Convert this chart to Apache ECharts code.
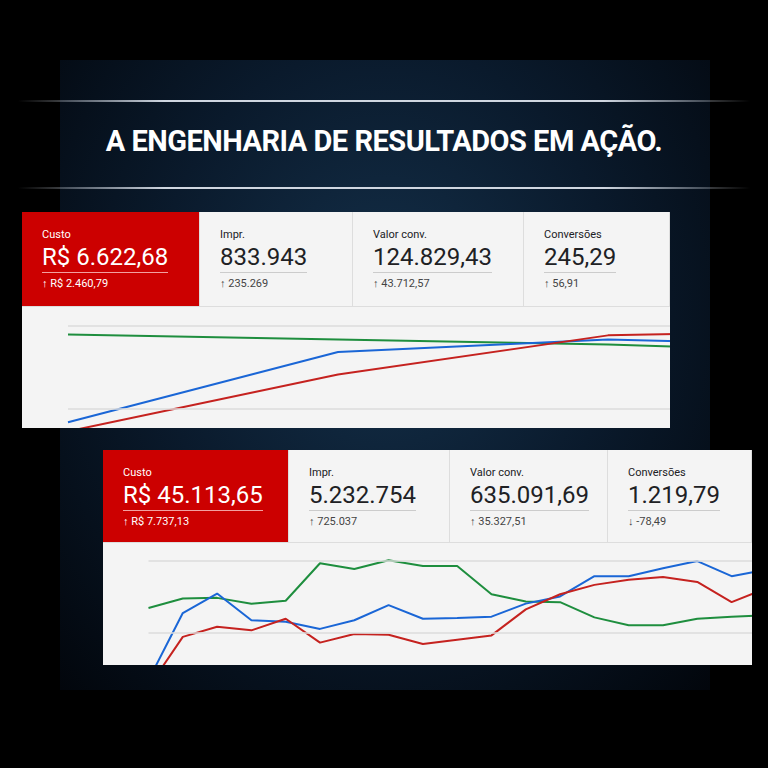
<!DOCTYPE html>
<html><head><meta charset="utf-8">
<script src="https://cdn.jsdelivr.net/npm/echarts@6/dist/echarts.min.js"></script>
<style>
body{margin:0;width:768px;height:768px;background:#000;font-family:Roboto,sans-serif;overflow:hidden;position:relative}
#bg{position:absolute;left:60px;top:60px;width:650px;height:630px;background:radial-gradient(ellipse at 50% 40%,#14304a 0%,#0a1a2c 50%,#02060c 100%)}
.hl{position:absolute;left:18px;width:732px;height:2px;background:linear-gradient(90deg,rgba(255,255,255,0),#cfd6e0 20%,#cfd6e0 80%,rgba(255,255,255,0))}
#title{position:absolute;left:0;width:768px;top:124px;text-align:center;color:#fff;font-weight:700;font-size:29px;letter-spacing:-0.5px}
.card{position:absolute;background:#f4f4f4;overflow:hidden}
.cell{position:absolute;top:0;border-right:1px solid #ddd;box-sizing:border-box;padding-left:20px;color:#202124}
.cell.red{background:#c00;color:#fff}
.lab{font-size:11px;margin-top:16px}
.val{font-size:24px;margin-top:2px;display:inline-block;border-bottom:1px solid #ccc;padding-bottom:1px}
.red .val{border-color:#f2a0a0}
.dl{font-size:11px;margin-top:4px;color:#444}
.red .dl{color:#fff}
.ch{position:absolute;left:0}
</style></head><body>
<div id="bg"></div>
<div class="hl" style="top:100px"></div>
<div class="hl" style="top:187px"></div>
<div id="title">A ENGENHARIA DE RESULTADOS EM AÇÃO.</div>

<div class="card" id="c1" style="left:22px;top:212px;width:648px;height:216px"></div>
<div class="card" id="c2" style="left:103px;top:450px;width:649px;height:215px"></div>

<script>
const kpiLabels = ["Custo","Impr.","Valor conv.","Conversões"];
const kpi1Values = ["R$ 6.622,68","833.943","124.829,43","245,29"];
const kpi1Deltas = ["↑ R$ 2.460,79","↑ 235.269","↑ 43.712,57","↑ 56,91"];
const kpi2Values = ["R$ 45.113,65","5.232.754","635.091,69","1.219,79"];
const kpi2Deltas = ["↑ R$ 7.737,13","↑ 725.037","↑ 35.327,51","↓ -78,49"];

const c1Green = [89,83,77,67];
const c1Blue  = [-16,68,83,75];
const c1Red   = [-27,41,88,94];

const c2Green = [34,47,48,40,44,96,88,100,92,92,53,43,42,21,10,10,19,22,24];
const c2Blue  = [-66,27,54,17,15,5,17,38,19,20,22,40,50,78,78,89,99,78,87];
const c2Red   = [-76,-6,8,3,19,-14,-2,-3,-16,-10,-4,32,53,66,73,77,70,42,61];

function header(card, widths, vals, dels, h){
  let x=0;
  widths.forEach((w,i)=>{
    const d=document.createElement('div');
    d.className='cell'+(i===0?' red':'');
    d.style.left=x+'px';d.style.width=w+'px';d.style.height=h+'px';
    d.innerHTML='<div class="lab">'+kpiLabels[i]+'</div><div class="val">'+vals[i]+'</div><div class="dl">'+dels[i]+'</div>';
    card.appendChild(d);x+=w;
  });
  const b=document.createElement('div');
  b.style.cssText='position:absolute;left:0;top:'+h+'px;width:100%;height:1px;background:#ddd';
  card.appendChild(b);
}
const c1=document.getElementById('c1'), c2=document.getElementById('c2');
header(c1,[178,153,171,146],kpi1Values,kpi1Deltas,94);
header(c2,[186,161,158,144],kpi2Values,kpi2Deltas,92);

function makeChart(card, top, w, h, left, right, ymin, ymax, g, b, r){
  const d=document.createElement('div');
  d.className='ch';d.style.top=top+'px';d.style.width=w+'px';d.style.height=h+'px';
  card.appendChild(d);
  const ch=echarts.init(d);
  const cats=g.map((_,i)=>String(i+1));
  const s=(data,color,ml)=>({type:'line',data,symbol:'none',smooth:false,lineStyle:{color,width:2},itemStyle:{color},
    markLine: ml?{silent:true,symbol:'none',label:{show:false},lineStyle:{color:'#ddd',type:'solid',width:1.5},data:[{yAxis:0},{yAxis:100}]}:undefined});
  ch.setOption({animation:false,
    grid:{left,right,top:0,bottom:0},
    xAxis:{type:'category',boundaryGap:false,data:cats,show:false},
    yAxis:{type:'value',min:ymin,max:ymax,show:false,splitLine:{show:false}},
    series:[s(g,'#1e8e3e',true),s(b,'#1a66d6',false),s(r,'#c5221f',false)]});
  return ch;
}
// chart1: plot area y 310..428 absolute => card-relative 98..216
makeChart(c1,95,960,121,46,960-46-810,-23,122,c1Green,c1Blue,c1Red);
// chart2: absolute 545..665 => card-relative 95..215
makeChart(c2,93,720,122,45.5,720-45.5-18*34.3,-45,124,c2Green,c2Blue,c2Red);
</script>
</body></html>
